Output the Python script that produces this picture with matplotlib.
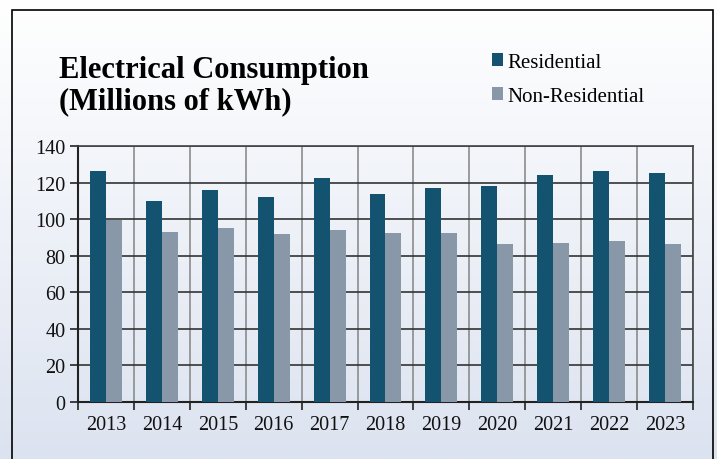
import numpy as np
import matplotlib
matplotlib.use("Agg")
import matplotlib.pyplot as plt
from matplotlib.patches import Rectangle

years = ["2013", "2014", "2015", "2016", "2017", "2018", "2019", "2020", "2021", "2022", "2023"]
residential = [126.3, 109.9, 115.9, 112.1, 122.5, 113.9, 116.8, 118.1, 124.3, 126.3, 125.2]
non_residential = [99.5, 93.1, 95.3, 92.1, 93.9, 92.4, 92.6, 86.4, 86.9, 87.9, 86.4]

W, H = 717, 460
fig = plt.figure(figsize=(W / 100, H / 100), dpi=100)
plt.rcParams['font.family'] = ['Liberation Serif', 'DejaVu Serif']

# background gradient
bg = fig.add_axes([0, 0, 1, 1], zorder=-10)
grad = np.linspace(0, 1, 256).reshape(-1, 1)
top = np.array([1.0, 1.0, 1.0])
bot = np.array([0xdc, 0xe3, 0xf0]) / 255
img = top + (bot - top) * grad[:, :, None] * np.ones((1, 2, 1))
bg.imshow(img, aspect='auto', extent=[0, 1, 0, 1], origin='upper')
bg.add_patch(Rectangle((11.5 / W, -0.05), (713 - 11.5) / W, 1.05 - 11 / H,
                       transform=bg.transAxes, fill=False, edgecolor='black', lw=1.2))
bg.set_xlim(0, 1); bg.set_ylim(0, 1)
bg.axis('off')

# main axes
L, R, T, B = 78, 693, 147, 403
ax = fig.add_axes([L / W, 1 - B / H, (R - L) / W, (B - T) / H])
ax.patch.set_alpha(0)
x = np.arange(len(years))
bw = 0.286
ax.bar(x - bw / 2, residential, bw, color='#14536f', zorder=3, label='Residential')
ax.bar(x + bw / 2, non_residential, bw, color='#8898a9', zorder=3, label='Non-Residential')

ax.set_xlim(-0.5, len(years) - 0.5)
ax.set_ylim(0, 140)
ax.set_yticks(np.arange(0, 141, 20))
ax.set_xticks(x)
ax.set_xticklabels(years, fontsize=14.5)
ax.set_xticks(np.arange(-0.5, len(years)), minor=True)
ax.tick_params(axis='x', which='major', length=0, pad=9)
ax.tick_params(axis='x', which='minor', length=6, width=1.2, color='#222222')
ax.tick_params(axis='y', labelsize=14.5, length=6, width=1.2, color='#222222', pad=3)
for lab in ax.get_yticklabels() + ax.get_xticklabels():
    lab.set_color('#111111')

ax.grid(axis='y', which='major', color='#333333', lw=1.2, zorder=1)
ax.grid(axis='x', which='minor', color='#8c8c8c', lw=1.2, zorder=1)
for s in ['left', 'bottom']:
    ax.spines[s].set_color('#222222'); ax.spines[s].set_linewidth(1.5)
for s in ['top', 'right']:
    ax.spines[s].set_color('#444444'); ax.spines[s].set_linewidth(1.2)

fig.text(59 / W, 1 - 78 / H, "Electrical Consumption", fontsize=22,
         fontweight='bold', ha='left', va='baseline', color='black')
fig.text(59 / W, 1 - 109 / H, "(Millions of kWh)", fontsize=22,
         fontweight='bold', ha='left', va='baseline', color='black')

leg = fig.legend(loc='upper left', bbox_to_anchor=(492 / W, 1 - 54 / H), frameon=False,
                 fontsize=15, handlelength=0.53, handleheight=0.53, handletextpad=0.2,
                 labelspacing=0.72, borderpad=0, borderaxespad=0)

fig.savefig("out.png", dpi=100)
